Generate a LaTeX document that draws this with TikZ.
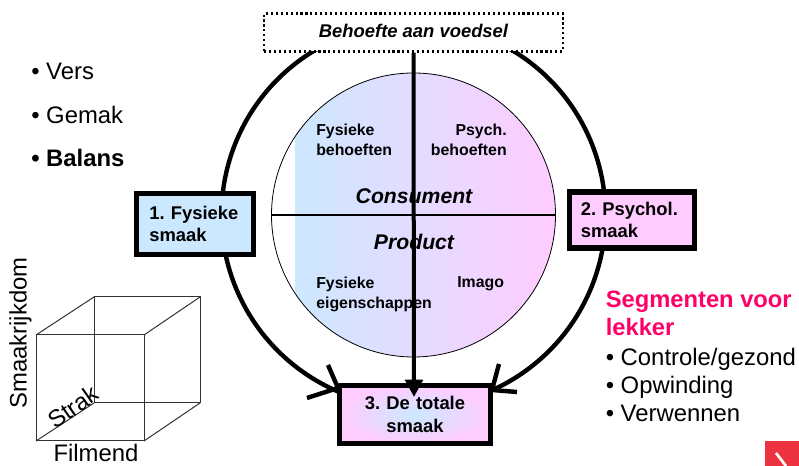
\documentclass[tikz,border=0pt]{standalone}
\usepackage{fontspec}
\setmainfont{Liberation Sans}
\usetikzlibrary{arrows.meta}
\usetikzlibrary{positioning}
\definecolor{softblue}{RGB}{204, 232, 255}
\definecolor{softpink}{RGB}{255, 204, 255}
\definecolor{segmentred}{RGB}{255, 0, 102}
\definecolor{logored}{RGB}{237, 50, 65}
\frenchspacing
\tikzset{
  ring/.style={line width=3.3pt},
  thinline/.style={line width=0.75pt, color=black!80},
  smaakbox/.style={draw=black, line width=4pt, font=\bfseries\fontsize{13.8}{17}\selectfont, align=left, inner sep=0pt},
  quadrant/.style={font=\bfseries\fontsize{11.9}{15}\selectfont, align=left, inner sep=0pt},
  axistext/.style={font=\bfseries\itshape\fontsize{15.9}{19}\selectfont, inner sep=0pt},
  bullets/.style={font=\fontsize{17.9}{21}\selectfont, align=left, inner sep=0pt, anchor=west},
  cubetext/.style={font=\fontsize{17.9}{21}\selectfont, inner sep=0pt},
}
\begin{document}
\begin{tikzpicture}[x=0.75pt, y=0.75pt]
            \useasboundingbox (0, 0) rectangle (799, 466);
            % Outer ring
            \coordinate (tipleft)  at (338, 78);
            \coordinate (tipright) at (492, 76);
            \coordinate (ringcentre) at (413.5, 251);
            \draw[ring] (ringcentre) ++(120:192) arc (120:246.5:192) -- (tipleft);
            \draw[ring] (ringcentre) ++(60:192) arc (60:-64:192) -- (tipright);
            \draw[ring] (tipleft)  +(-31,-10) -- (tipleft)  -- +(-10,23);
            \draw[ring] (tipright) +(25,-2)   -- (tipright) -- +(7,26);
            % Inner circle
            \begin{scope}
                \clip (413.5, 251) circle (142);
                \shade[left color=softblue, right color=softpink] (295, 100) rectangle (556, 400);
            \end{scope}
            \node[circle, draw=black, line width=0.6pt, minimum size=213pt, inner sep=0pt] (disc) at (413.5, 251) {};
            \draw[line width=1.1pt] (disc.west) -- (disc.east);
            % Boxes
            \node[draw=black, dash pattern=on 1.6pt off 2.1pt, line width=1.6pt, fill=white, minimum width=224pt, minimum height=28.5pt, inner sep=0pt, text depth=2pt, font=\bfseries\itshape\fontsize{13.8}{16}\selectfont] (need) at (413.5, 433.5) {Behoefte aan voedsel};
            \node[smaakbox, fill=softblue, minimum height=45.4pt, minimum width=87.4pt, text width=68.5pt] (fysiek) at (195, 242) {1. Fysieke\\smaak};
            \node[smaakbox, fill=softpink, minimum height=42pt, minimum width=94pt, text width=76.8pt] (psych) at (632, 246) {2. Psychol.\\smaak};
            \node[smaakbox, minimum width=113pt, minimum height=43.5pt, text width=113pt, align=center, inner color=softblue, outer color=softpink] (totaal) at (415, 51.5) {3. De totale\\smaak};
            % Vertical arrow
            \coordinate (arrowend) at (414, 69);
            \draw[line width=3pt, -{Triangle[length=13pt, width=13pt]}] (need.south) -- (arrowend);
            % Texts in the circle
            \node[quadrant, anchor=north west] (needfys) at (316, 342) {Fysieke\\behoeften};
            \node[quadrant, anchor=north east, align=right] (needpsy) at (507, 342) {Psych.\\behoeften};
            \node[quadrant, anchor=north west] (propfys) at (316, 189.5) {Fysieke\\eigenschappen};
            \node[quadrant, anchor=north west] (propimg) at (457, 189.5) {Imago};
            \node[axistext] (consument) at (414, 270) {Consument};
            \node[axistext] (product) at (414, 224) {Product};
            % Left list
            \node[bullets] (vers) at (31, 395) {• Vers};
            \node[bullets] (gemak) at (31, 351) {• Gemak};
            \node[bullets, font=\bfseries\fontsize{17.9}{21}\selectfont] (balans) at (31, 308) {• Balans};
            % Cube
            \draw[thinline] (36, 25) rectangle (144, 131);
            \draw[thinline] (94, 63) rectangle (200, 169);
            \draw[thinline] (36, 131) -- (94, 169);
            \draw[thinline] (144, 131) -- (200, 169);
            \draw[thinline] (36, 25) -- (94, 63);
            \draw[thinline] (144, 25) -- (200, 63);
            \node[cubetext, rotate=90] (rijk) at (20.5, 133) {Smaakrijkdom};
            \node[cubetext, rotate=35] (strak) at (73, 59) {Strak};
            \node[cubetext] (filmend) at (96, 13) {Filmend};
            % Right list
            \node[bullets, font=\bfseries\fontsize{17.8}{21}\selectfont, color=segmentred, anchor=north west] (segment) at (605.5, 175) {Segmenten voor\\lekker};
            \node[bullets, anchor=west] (lijst) at (605.5, 81) {• Controle/gezond\\• Opwinding\\• Verwennen};
            % Logo
            \fill[logored] (765, 0) rectangle (799, 25);
            \draw[white, line width=2pt] (776, 13) -- (786, 0);
\end{tikzpicture}
\end{document}
